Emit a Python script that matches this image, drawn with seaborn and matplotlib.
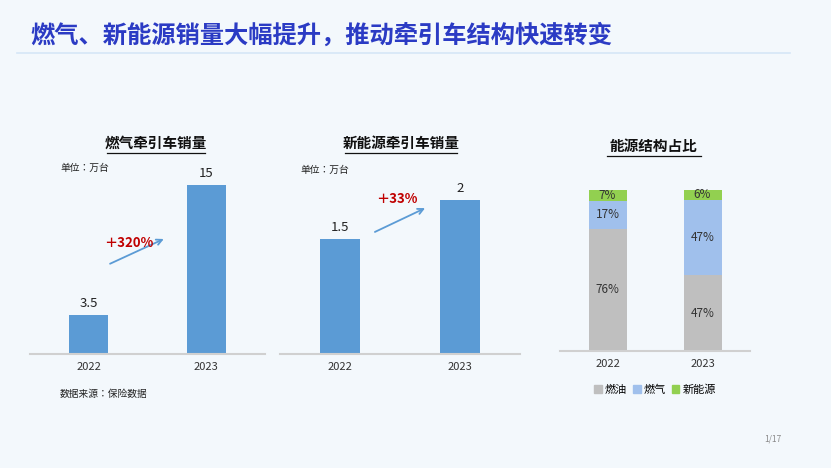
import matplotlib
matplotlib.use("Agg")
import matplotlib.pyplot as plt
from matplotlib import font_manager as fm
import seaborn as sns
import pandas as pd
from matplotlib.lines import Line2D
from matplotlib.patches import Patch
import os

reg = "/usr/share/fonts/opentype/noto/NotoSansCJK-Regular.ttc"
bold = "/usr/share/fonts/opentype/noto/NotoSansCJK-Bold.ttc"
for f in (reg, bold):
    if os.path.exists(f):
        fm.fontManager.addfont(f)
FP = fm.FontProperties(fname=reg) if os.path.exists(reg) else fm.FontProperties(family="DejaVu Sans")
FB = fm.FontProperties(fname=bold) if os.path.exists(bold) else FP
plt.rcParams["font.family"] = [FP.get_name(), "DejaVu Sans"]

years = ["2022", "2023"]
gas_sales = [3.5, 15]
nev_sales = [1.5, 2]
share_oil = [76, 47]
share_gas = [17, 47]
share_nev = [7, 6]
gas_growth = "＋320%"
nev_growth = "＋33%"

W, H = 831, 468
fig = plt.figure(figsize=(W / 100, H / 100), dpi=100)
fig.patch.set_facecolor("#f3f8fc")

def box(x0, y0, x1, y1):
    return [x0 / W, 1 - y1 / H, (x1 - x0) / W, (y1 - y0) / H]

def fpr(size):
    p = FP.copy(); p.set_size(size); return p

def fpb(size):
    p = FB.copy(); p.set_size(size); return p

blue = "#5b9bd5"
red = "#c00000"

def style(ax):
    ax.set_facecolor("none")
    for s in ["top", "right", "left"]:
        ax.spines[s].set_visible(False)
    ax.spines["bottom"].set_color("#d0d0d0")
    ax.spines["bottom"].set_linewidth(1.5)
    ax.set_yticks([])
    ax.set_xlabel("")
    ax.set_ylabel("")
    ax.tick_params(axis="x", length=0, labelsize=8, colors="#333333", pad=6)

# chart 1
ax1 = fig.add_axes(box(30, 160, 265, 354))
df1 = pd.DataFrame({"year": years, "v": gas_sales})
sns.barplot(data=df1, x="year", y="v", color=blue, width=0.33, saturation=1, ax=ax1)
ax1.set_ylim(0, 17.2)
ax1.set_xlim(-0.5, 1.5)
style(ax1)
for i, v in enumerate(gas_sales):
    ax1.text(i, v + 0.4, f"{v:g}", ha="center", va="bottom", fontproperties=fpr(9.5), color="#222222")
ax1.annotate("", xy=(0.66, 10.3), xytext=(0.16, 7.9),
             arrowprops=dict(arrowstyle="->", color=blue, lw=1.3))
ax1.text(0.34, 9.8, gas_growth, ha="center", va="center", fontproperties=fpb(9.5), color=red)

# chart 2
ax2 = fig.add_axes(box(280, 160, 520, 354))
df2 = pd.DataFrame({"year": years, "v": nev_sales})
sns.barplot(data=df2, x="year", y="v", color=blue, width=0.33, saturation=1, ax=ax2)
ax2.set_ylim(0, 2.52)
ax2.set_xlim(-0.5, 1.5)
style(ax2)
for i, v in enumerate(nev_sales):
    ax2.text(i, v + 0.06, f"{v:g}", ha="center", va="bottom", fontproperties=fpr(9.5), color="#222222")
ax2.annotate("", xy=(0.73, 1.91), xytext=(0.27, 1.57),
             arrowprops=dict(arrowstyle="->", color=blue, lw=1.3))
ax2.text(0.47, 2.01, nev_growth, ha="center", va="center", fontproperties=fpb(9.5), color=red)

# chart 3 stacked
ax3 = fig.add_axes(box(560, 190, 750, 351))
c_oil, c_gas, c_nev = "#bfbfbf", "#a0c0ec", "#92d050"
tot = [a + b + c for a, b, c in zip(share_oil, share_gas, share_nev)]
mid = [a + b for a, b in zip(share_oil, share_gas)]
for vals, col in [(tot, c_nev), (mid, c_gas), (share_oil, c_oil)]:
    sns.barplot(data=pd.DataFrame({"year": years, "v": vals}), x="year", y="v",
                color=col, width=0.4, saturation=1, ax=ax3)
ax3.set_ylim(0, 100)
ax3.set_xlim(-0.5, 1.5)
style(ax3)
for i in range(2):
    ax3.text(i, share_oil[i] / 2, f"{share_oil[i]}%", ha="center", va="center", fontproperties=fpr(8.5), color="#333333")
    ax3.text(i, share_oil[i] + share_gas[i] / 2, f"{share_gas[i]}%", ha="center", va="center", fontproperties=fpr(8.5), color="#333333")
    ax3.text(i, mid[i] + share_nev[i] / 2, f"{share_nev[i]}%", ha="center", va="center", fontproperties=fpr(8.5), color="#333333")
handles = [Patch(color=c_oil, label="燃油"), Patch(color=c_gas, label="燃气"), Patch(color=c_nev, label="新能源")]
fig.legend(handles=handles, loc="center", bbox_to_anchor=(655 / W, 1 - 390 / H), ncol=3, frameon=False,
           prop=fpr(8), handlelength=0.7, handleheight=0.7, handletextpad=0.3, columnspacing=0.5)

# texts
fig.text(30 / W, 1 - 36 / H, "燃气、新能源销量大幅提升，推动牵引车结构快速转变",
         fontproperties=fpb(17.5), color="#2b3bc4", va="center", ha="left")
fig.add_artist(Line2D([17 / W, 790 / W], [1 - 53 / H] * 2, color="#d6e6f7", lw=1.2))

def utitle(x, y, s, w):
    fig.text(x / W, 1 - y / H, s, fontproperties=fpb(10.5), ha="center", va="center", color="#111111")
    fig.add_artist(Line2D([(x - w / 2) / W, (x + w / 2) / W], [1 - (y + 10) / H] * 2, color="#111111", lw=0.9))

utitle(156, 143, "燃气牵引车销量", 98)
utitle(401, 143, "新能源牵引车销量", 112)
utitle(654, 146, "能源结构占比", 94)
fig.text(60 / W, 1 - 168 / H, "单位：万台", fontproperties=fpr(7), va="center", color="#222222")
fig.text(300 / W, 1 - 170 / H, "单位：万台", fontproperties=fpr(7), va="center", color="#222222")
fig.text(60 / W, 1 - 394 / H, "数据来源：保险数据", fontproperties=fpr(7), va="center", color="#222222")
fig.text(773 / W, 1 - 439 / H, "1/17", fontproperties=fpr(6), va="center", ha="center", color="#888888")

fig.savefig("out.png", dpi=100, facecolor=fig.get_facecolor())
